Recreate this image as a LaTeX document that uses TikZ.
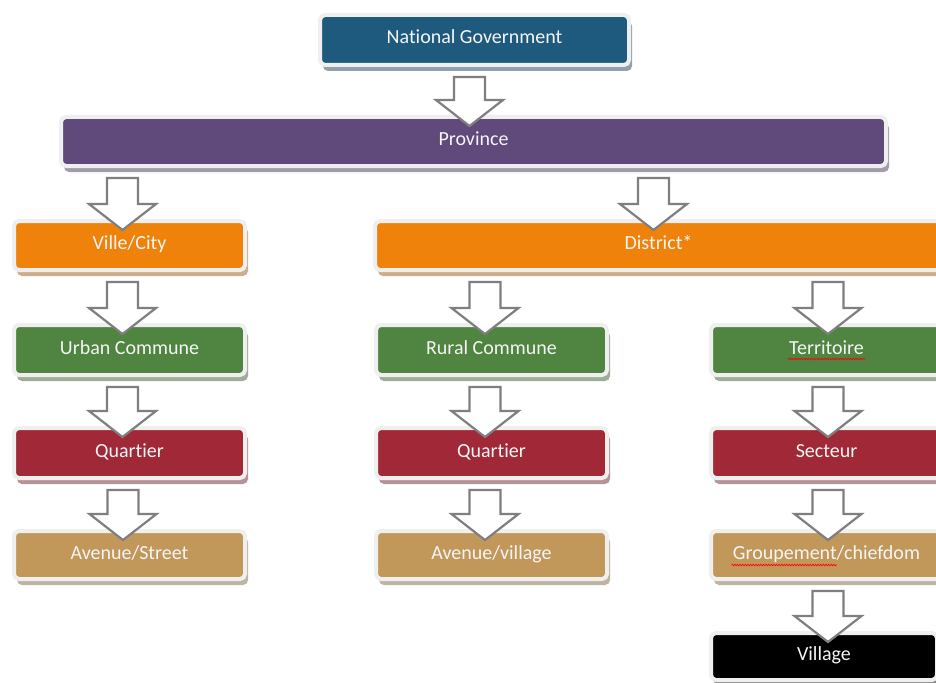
\documentclass[tikz,border=0pt]{standalone}
\usepackage{fontspec}
\setmainfont{Carlito}[Ligatures={NoCommon}]
\usetikzlibrary{calc,shadows,decorations.pathmorphing}

\definecolor{govblue}{HTML}{1E5A7D}
\definecolor{provpurple}{HTML}{604A7B}
\definecolor{levelorange}{HTML}{EF820B}
\definecolor{levelgreen}{HTML}{4F8441}
\definecolor{levelred}{HTML}{A02837}
\definecolor{leveltan}{HTML}{C1975A}
\definecolor{levelblack}{HTML}{000000}
\definecolor{framegray}{HTML}{EFEFEF}
\definecolor{arrowgray}{HTML}{7F7F7F}

\tikzset{
  level/.style={rectangle, rounded corners=5pt, draw=framegray, line width=4pt,
    fill=#1, text=white!96!black, inner sep=0pt, outer sep=0pt,
    minimum width=231pt, minimum height=50pt,
    font=\fontsize{20}{24}\selectfont, text height=0.8em, text depth=0em,
    drop shadow={fill=#1!45!gray!65!white, opacity=1, shadow xshift=3pt, shadow yshift=-6pt}},
  blockarrow/.style={draw=arrowgray, line width=2.2pt, fill=white, line join=miter},
  spellmark/.style={draw=red, line width=0.6pt, decorate,
    decoration={snake, amplitude=0.8pt, segment length=2.6pt}}
}

% hollow block arrow from the bottom of #1 into the top of #2, at horizontal position #3
\newcommand\flowarrow[3]{%
  \draw[blockarrow] let \p1=(#1.south), \p2=(#2.north) in
    (#3pt-15.5pt,\y1-12pt) -- (#3pt+15.5pt,\y1-12pt) -- (#3pt+15.5pt,\y2-9pt+26pt)
    -- (#3pt+33.5pt,\y2-9pt+26pt) -- (#3pt,\y2-9pt) -- (#3pt-33.5pt,\y2-9pt+26pt)
    -- (#3pt-15.5pt,\y2-9pt+26pt) -- cycle;}

\begin{document}
\begin{tikzpicture}[x=1pt,y=-1pt]
  \useasboundingbox (0,0) rectangle (936,682);
  \clip (0,0) rectangle (936,682);
  \fill[white] (0,0) rectangle (936,682);

  % top levels
  \node[level=govblue, minimum width=309pt] (ng) at (474.5,40) {National Government};
  \node[level=provpurple, minimum width=825pt, minimum height=49pt] (prov) at (473.5,141.5) {Province};

  % second level
  \node[level=levelorange, minimum height=49pt] (ville) at (129.5,245.5) {Ville/City};
  \node[level=levelorange, minimum width=567pt, minimum height=49pt] (district) at (658.5,245.5) {District*};

  % urban branch
  \node[level=levelgreen] (urban) at (129.5,350) {Urban Commune};
  \node[level=levelred] (quart1) at (129.5,453) {Quartier};
  \node[level=leveltan, minimum height=48pt] (avenue1) at (129.5,555) {Avenue/Street};

  % rural branch
  \node[level=levelgreen] (rural) at (491.5,350) {Rural Commune};
  \node[level=levelred] (quart2) at (491.5,453) {Quartier};
  \node[level=leveltan, minimum height=48pt] (avenue2) at (491.5,555) {Avenue/village};

  % customary branch
  \node[level=levelgreen] (terr) at (826.5,350) {Territoire};
  \node[level=levelred] (secteur) at (826.5,453) {Secteur};
  \node[level=leveltan, minimum height=48pt] (group) at (826.5,555) {Groupement/chiefdom};
  \node[level=levelblack, minimum width=226pt, minimum height=47pt] (village) at (824,656.5) {Village};

  % spelling marks under two words
  \draw[spellmark] ([xshift=-39pt,yshift=-9pt]terr.center) -- ([xshift=39pt,yshift=-9pt]terr.center);
  \draw[spellmark] ([xshift=-95pt,yshift=-10pt]group.center) -- ([xshift=10.5pt,yshift=-10pt]group.center);

  % arrows
  \flowarrow{ng}{prov}{469.5}
  \flowarrow{prov}{ville}{122.5}
  \flowarrow{prov}{district}{653.5}
  \flowarrow{ville}{urban}{122.5}
  \flowarrow{urban}{quart1}{122.5}
  \flowarrow{quart1}{avenue1}{123}
  \flowarrow{district}{rural}{485}
  \flowarrow{rural}{quart2}{485}
  \flowarrow{quart2}{avenue2}{485}
  \flowarrow{district}{terr}{828}
  \flowarrow{terr}{secteur}{828}
  \flowarrow{secteur}{group}{828}
  \flowarrow{group}{village}{828}
\end{tikzpicture}
\end{document}
